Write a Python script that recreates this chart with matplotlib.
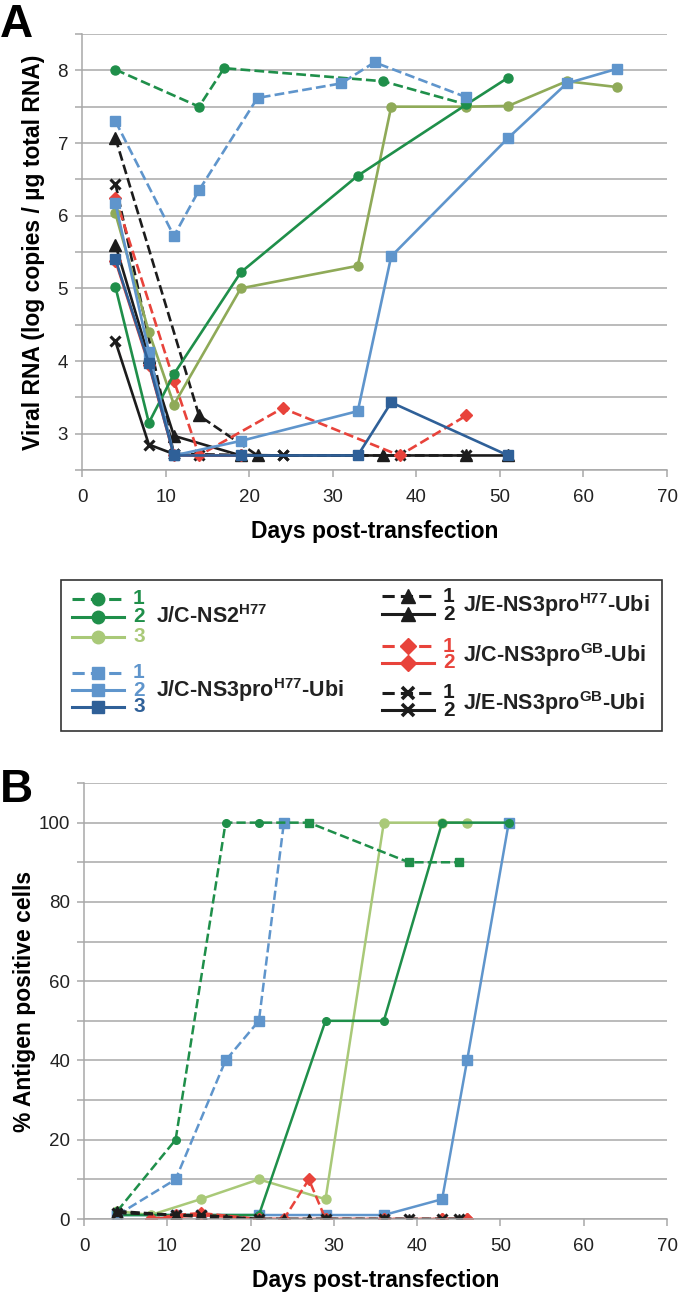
import matplotlib
matplotlib.use('Agg')
import matplotlib.pyplot as plt
from matplotlib.patches import Rectangle

plt.rcParams['font.family'] = ['Liberation Sans', 'DejaVu Sans']
plt.rcParams['mathtext.fontset'] = 'custom'
plt.rcParams['mathtext.rm'] = 'Liberation Sans'
plt.rcParams['mathtext.bf'] = 'Liberation Sans:bold'

# ---- colours
GREEN = '#1f8f4a'
OLIVE_A = '#8faa58'
OLIVE_B = '#a9c978'
LBLUE = '#5f95cc'
DBLUE = '#2f6098'
RED = '#e8433b'
BLACK = '#1c1c1c'
GRID = '#a8a8a8'

# ---- panel A: viral RNA (log copies / ug total RNA)
a_ns2_1_x = [4, 14, 17, 36, 46]
a_ns2_1_y = [8.01, 7.5, 8.03, 7.85, 7.53]
a_ns2_2_x = [4, 8, 11, 19, 33, 46, 51]
a_ns2_2_y = [5.02, 3.15, 3.82, 5.22, 6.55, 7.53, 7.9]
a_ns2_3_x = [4, 8, 11, 19, 33, 37, 46, 51, 58, 64]
a_ns2_3_y = [6.03, 4.4, 3.4, 5.0, 5.31, 7.5, 7.5, 7.51, 7.85, 7.77]
a_h77_1_x = [4, 11, 14, 21, 31, 35, 46]
a_h77_1_y = [7.3, 5.72, 6.35, 7.62, 7.82, 8.11, 7.63]
a_h77_2_x = [4, 8, 11, 19, 33, 37, 51, 58, 64]
a_h77_2_y = [6.17, 4.13, 2.7, 2.9, 3.31, 5.44, 7.07, 7.82, 8.02]
a_h77_3_x = [4, 8, 11, 19, 33, 37, 51]
a_h77_3_y = [5.4, 3.97, 2.7, 2.7, 2.7, 3.43, 2.7]
a_eh77_1_x = [4, 14, 21]
a_eh77_1_y = [7.07, 3.25, 2.7]
a_eh77_2_x = [4, 8, 11, 19, 36, 46, 51]
a_eh77_2_y = [5.6, 4.05, 2.97, 2.7, 2.7, 2.7, 2.7]
a_gb_1_x = [4, 11, 14, 24, 38, 46]
a_gb_1_y = [6.25, 3.73, 2.7, 3.35, 2.7, 3.25]
a_gb_2_x = [4, 8, 11, 19]
a_gb_2_y = [5.38, 3.95, 2.7, 2.7]
a_egb_1_x = [4, 11, 24, 38, 46]
a_egb_1_y = [6.44, 2.72, 2.7, 2.7, 2.7]
a_egb_2_x = [4, 8, 11, 14, 24]
a_egb_2_y = [4.27, 2.85, 2.72, 2.7, 2.7]

# ---- panel B: % antigen positive cells
b_ns2_1_x = [4, 11, 17, 21, 27, 39, 45]
b_ns2_1_y = [2, 20, 100, 100, 100, 90, 90]
b_ns2_2_x = [4, 11, 14, 21, 29, 36, 43, 51]
b_ns2_2_y = [1, 1, 1, 1, 50, 50, 100, 100]
b_ns2_3_x = [4, 8, 14, 21, 29, 36, 43, 46]
b_ns2_3_y = [2, 1, 5, 10, 5, 100, 100, 100]
b_h77_1_x = [4, 11, 17, 21, 24]
b_h77_1_y = [1, 10, 40, 50, 100]
b_h77_2_x = [4, 11, 14, 21, 29, 36, 43, 46, 51]
b_h77_2_y = [1, 1, 1, 1, 1, 1, 5, 40, 100]
b_gb_1_x = [8, 11, 14, 21, 24, 27, 29, 36, 43, 46]
b_gb_1_y = [0, 1, 1.5, 0, 0, 10, 0, 0, 0, 0]
b_gb_2_x = [8, 11, 14, 21, 29, 36, 43, 46]
b_gb_2_y = [0, 0.5, 1, 0, 0, 0, 0, 0]
b_eh77_1_x = [4, 11, 17, 21, 24, 27, 29, 36, 39, 45]
b_eh77_1_y = [2, 1, 0, 0, 0, 0, 0, 0, 0, 0]
b_egb_1_x = [4, 11, 14, 21, 29, 36, 39, 43, 45]
b_egb_1_y = [1.5, 1, 1, 0, 0, 0, 0, 0, 0]

fig = plt.figure(figsize=(6.8, 12.96), dpi=100)


def style_axes(ax, ylim, ystep, ylabel_every, ylabel, ypad):
    ax.set_xlim(0, 70)
    ax.set_ylim(*ylim)
    ax.set_xticks(range(0, 71, 10))
    ticks = []
    v = ylim[0]
    while v <= ylim[1] + 1e-9:
        ticks.append(round(v, 3))
        v += ystep
    ax.set_yticks(ticks)
    labels = []
    for t in ticks:
        if abs(t / ylabel_every - round(t / ylabel_every)) < 1e-6 and t != ticks[0] or (t == 0):
            labels.append('%g' % t)
        else:
            labels.append('')
    ax.set_yticklabels(labels)
    ax.grid(axis='y', color=GRID, lw=1.1)
    ax.set_axisbelow(True)
    for s in ['top', 'right']:
        ax.spines[s].set_visible(False)
    for s in ['left', 'bottom']:
        ax.spines[s].set_color(GRID)
        ax.spines[s].set_linewidth(1.1)
    ax.tick_params(axis='both', color=GRID, width=1.1, length=5, labelsize=13.5,
                   labelcolor='#222222')
    ax.tick_params(axis='x', pad=9)
    ax.tick_params(axis='y', pad=5)
    ax.set_xlabel('Days post-transfection', fontsize=16.5, fontweight='bold', labelpad=10)
    ax.set_ylabel(ylabel, fontsize=16.5, fontweight='bold', labelpad=ypad)


# ---------------- panel A
axA = fig.add_axes([82 / 680, 1 - 470 / 1296, 585 / 680, 436 / 1296])
lw = 1.9
axA.plot(a_egb_1_x, a_egb_1_y, color=BLACK, ls='--', lw=lw, marker='x', ms=7, mew=2.2)
axA.plot(a_egb_2_x, a_egb_2_y, color=BLACK, ls='-', lw=lw, marker='x', ms=7, mew=2.2)
axA.plot(a_eh77_2_x, a_eh77_2_y, color=BLACK, ls='-', lw=lw, marker='^', ms=8)
axA.plot(a_eh77_1_x, a_eh77_1_y, color=BLACK, ls='--', lw=lw, marker='^', ms=8)
axA.plot(a_gb_2_x, a_gb_2_y, color=RED, ls='-', lw=lw, marker='D', ms=6)
axA.plot(a_gb_1_x, a_gb_1_y, color=RED, ls='--', lw=lw, marker='D', ms=6)
axA.plot(a_ns2_1_x, a_ns2_1_y, color=GREEN, ls='--', lw=lw, marker='o', ms=6.5)
axA.plot(a_ns2_3_x, a_ns2_3_y, color=OLIVE_A, ls='-', lw=lw, marker='o', ms=6.5)
axA.plot(a_ns2_2_x, a_ns2_2_y, color=GREEN, ls='-', lw=lw, marker='o', ms=6.5)
axA.plot(a_h77_1_x, a_h77_1_y, color=LBLUE, ls='--', lw=lw, marker='s', ms=6.5)
axA.plot(a_h77_2_x, a_h77_2_y, color=LBLUE, ls='-', lw=lw, marker='s', ms=6.5)
axA.plot(a_h77_3_x, a_h77_3_y, color=DBLUE, ls='-', lw=lw, marker='s', ms=6.5)
style_axes(axA, (2.5, 8.5), 0.5, 1, 'Viral RNA (log copies / µg total RNA)', 9)

# ---------------- panel B
axB = fig.add_axes([84 / 680, 1 - 1219 / 1296, 583 / 680, 436 / 1296])
lwb = 1.8
axB.plot(b_h77_2_x, b_h77_2_y, color=LBLUE, ls='-', lw=lwb, marker='s', ms=6.5)
axB.plot(b_ns2_3_x, b_ns2_3_y, color=OLIVE_B, ls='-', lw=lwb, marker='o', ms=6.5)
axB.plot(b_ns2_2_x, b_ns2_2_y, color=GREEN, ls='-', lw=lwb, marker='o', ms=5.5)
axB.plot(b_h77_1_x, b_h77_1_y, color=LBLUE, ls='--', lw=lwb, marker='s', ms=6.5)
axB.plot(b_ns2_1_x, b_ns2_1_y, color=GREEN, ls='--', lw=lwb, marker='o', ms=5.5,
         markevery=[0, 1, 2, 3])
axB.plot(b_ns2_1_x[4:], b_ns2_1_y[4:], color=GREEN, ls='none', marker='s', ms=6)
axB.plot(b_gb_2_x, b_gb_2_y, color=RED, ls='-', lw=lwb, marker='D', ms=6)
axB.plot(b_gb_1_x, b_gb_1_y, color=RED, ls='--', lw=lwb, marker='D', ms=6)
axB.plot(b_eh77_1_x, b_eh77_1_y, color=BLACK, ls='--', lw=lwb, marker='^', ms=6.5)
axB.plot(b_egb_1_x, b_egb_1_y, color=BLACK, ls='--', lw=lwb, marker='x', ms=6.5, mew=2.2)
style_axes(axB, (0, 110), 10, 20, '% Antigen positive cells', 2)

# panel letters
fig.text(0.0, 1 - 37 / 1296, 'A', fontsize=33, fontweight='bold', va='baseline')
fig.text(0.0, 1 - 802 / 1296, 'B', fontsize=33, fontweight='bold', va='baseline')

# ---------------- legend (drawn by hand in pixel coordinates)
lax = fig.add_axes([0, 0, 1, 1], facecolor='none')
lax.set_xlim(0, 680)
lax.set_ylim(1296, 0)
lax.axis('off')
lax.add_patch(Rectangle((61, 580), 601, 151, fill=False, ec='#333333', lw=1.2))

leg_rows = [
    # x0, x1, y, number, colour, linestyle, marker, ms
    (72, 124, 599, '1', GREEN, '--', 'o', 9),
    (72, 124, 617, '2', GREEN, '-', 'o', 9),
    (72, 124, 637, '3', OLIVE_B, '-', 'o', 9),
    (72, 124, 673, '1', LBLUE, '--', 's', 8.5),
    (72, 124, 690, '2', LBLUE, '-', 's', 8.5),
    (72, 124, 707, '3', DBLUE, '-', 's', 8.5),
    (382, 434, 596, '1', BLACK, '--', '^', 10),
    (382, 434, 614, '2', BLACK, '-', '^', 10),
    (382, 434, 646, '1', RED, '--', 'D', 8.5),
    (382, 434, 663, '2', RED, '-', 'D', 8.5),
    (382, 434, 693, '1', BLACK, '--', 'x', 9),
    (382, 434, 710, '2', BLACK, '-', 'x', 9),
]
for x0, x1, y, num, c, ls, mk, ms in leg_rows:
    lax.plot([x0, x1], [y, y], color=c, ls=ls, lw=2.2, dashes=(4, 2) if ls == '--' else (None, None))
    lax.plot([(x0 + x1) / 2], [y], color=c, marker=mk, ms=ms, mew=2.6 if mk == 'x' else 1)
    lax.text(x1 + 9, y, num, color=c, fontsize=15, fontweight='bold', va='center')

leg_labels = [
    (156, 617, r'J/C-NS2$^{\mathbf{H77}}$'),
    (156, 690, r'J/C-NS3pro$^{\mathbf{H77}}$-Ubi'),
    (463, 605, r'J/E-NS3pro$^{\mathbf{H77}}$-Ubi'),
    (463, 655, r'J/C-NS3pro$^{\mathbf{GB}}$-Ubi'),
    (463, 703, r'J/E-NS3pro$^{\mathbf{GB}}$-Ubi'),
]
for x, y, t in leg_labels:
    lax.text(x, y, t, fontsize=15.5, fontweight='bold', color='#222222', va='center')

fig.savefig('out.png', dpi=100)
